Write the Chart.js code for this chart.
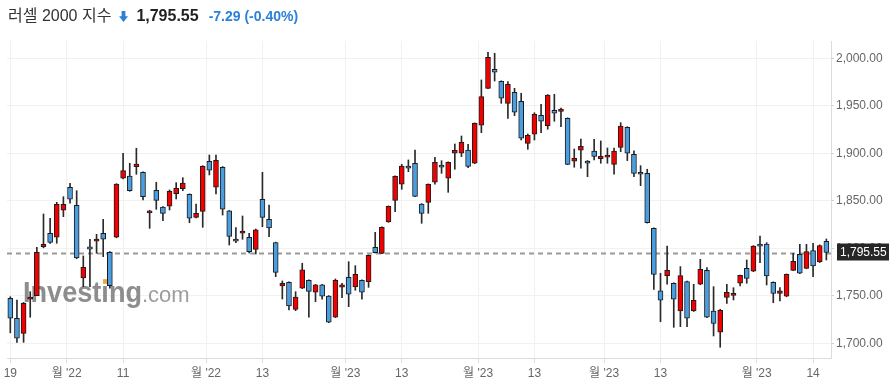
<!DOCTYPE html>
<html><head><meta charset="utf-8">
<script src="https://cdn.jsdelivr.net/npm/chart.js@4.4.1/dist/chart.umd.min.js"></script>
<style>
html,body{margin:0;padding:0;background:#fff;width:891px;height:390px;overflow:hidden;}
#wrap{position:relative;width:891px;height:390px;}
#title{position:absolute;left:8px;top:6px;font-family:"Liberation Sans",Arial,"Noto Sans CJK KR",sans-serif;font-size:16px;line-height:20px;color:#333;white-space:nowrap;}
#title .arrow{display:inline-block;vertical-align:-1px;margin-left:8px;}
#title .price{font-weight:bold;color:#222;margin-left:8px;}
#title .chg{font-weight:bold;color:#2b80d8;font-size:14px;margin-left:10px;}
canvas{position:absolute;left:0;top:0;}
</style></head>
<body><div id="wrap">
<canvas id="c" width="891" height="390"></canvas>
<div id="title"></div>
</div>
<script>
// ---- data ----
const titleName = "러셀 2000 지수";
const lastPrice = 1795.55;
const change = "-7.29";
const changePct = "(-0.40%)";

const dates = [
"2022-10-19","2022-10-20","2022-10-21","2022-10-24","2022-10-25","2022-10-26","2022-10-27","2022-10-28","2022-10-31",
"2022-11-01","2022-11-02","2022-11-03","2022-11-04","2022-11-07","2022-11-08","2022-11-09","2022-11-10","2022-11-11","2022-11-14","2022-11-15","2022-11-16","2022-11-17","2022-11-18","2022-11-21","2022-11-22","2022-11-23","2022-11-25","2022-11-28","2022-11-29","2022-11-30",
"2022-12-01","2022-12-02","2022-12-05","2022-12-06","2022-12-07","2022-12-08","2022-12-09","2022-12-12","2022-12-13","2022-12-14","2022-12-15","2022-12-16","2022-12-19","2022-12-20","2022-12-21","2022-12-22","2022-12-23","2022-12-27","2022-12-28","2022-12-29","2022-12-30",
"2023-01-03","2023-01-04","2023-01-05","2023-01-06","2023-01-09","2023-01-10","2023-01-11","2023-01-12","2023-01-13","2023-01-17","2023-01-18","2023-01-19","2023-01-20","2023-01-23","2023-01-24","2023-01-25","2023-01-26","2023-01-27","2023-01-30","2023-01-31",
"2023-02-01","2023-02-02","2023-02-03","2023-02-06","2023-02-07","2023-02-08","2023-02-09","2023-02-10","2023-02-13","2023-02-14","2023-02-15","2023-02-16","2023-02-17","2023-02-21","2023-02-22","2023-02-23","2023-02-24","2023-02-27","2023-02-28",
"2023-03-01","2023-03-02","2023-03-03","2023-03-06","2023-03-07","2023-03-08","2023-03-09","2023-03-10","2023-03-13","2023-03-14","2023-03-15","2023-03-16","2023-03-17","2023-03-20","2023-03-21","2023-03-22","2023-03-23","2023-03-24","2023-03-27","2023-03-28","2023-03-29","2023-03-30","2023-03-31",
"2023-04-03","2023-04-04","2023-04-05","2023-04-06","2023-04-10","2023-04-11","2023-04-12","2023-04-13","2023-04-14","2023-04-17","2023-04-18"
];

const open = [
1747.4,1726.3,1710.5,1746.3,1750.1,1801.7,1815.8,1811.6,1840.0,1864.2,
1845.3,1768.7,1801.4,1807.4,1815.8,1795.8,1811.6,1873.7,1876.1,1885.9,
1880.0,1837.2,1861.0,1843.5,1844.2,1857.5,1862.8,1856.8,1832.6,1838.9,
1891.6,1864.2,1885.3,1839.3,1809.8,1815.8,1811.6,1798.9,1851.6,1830.5,
1805.9,1760.3,1764.2,1735.7,1757.9,1766.3,1753.7,1761.4,1749.7,1727.4,
1759.0,1769.5,1759.3,1766.3,1764.9,1801.0,1794.7,1827.7,1850.5,1867.4,
1886.6,1889.5,1846.6,1848.4,1869.5,1887.7,1873.7,1900.0,1900.0,1903.5,
1889.5,1929.5,1968.4,1988.4,1975.8,1952.6,1964.2,1954.7,1910.5,1920.0,
1940.0,1929.0,1945.3,1944.2,1936.8,1891.6,1903.2,1891.9,1902.4,1894.3,
1895.8,1888.4,1906.3,1927.4,1898.9,1880.0,1878.9,1821.0,1755.1,1771.2,
1763.2,1734.0,1764.9,1734.0,1762.1,1776.8,1734.0,1711.6,1748.4,1750.5,
1763.2,1778.9,1775.8,1804.5,1804.5,1764.2,1752.6,1749.5,1776.8,1793.7,
1778.9,1797.5,1785.9,1807.4
];
const high = [
1749.0,1745.6,1743.0,1754.3,1801.0,1836.1,1831.6,1848.4,1854.3,1868.4,
1860.6,1791.9,1809.5,1814.7,1830.5,1796.5,1868.0,1900.0,1889.5,1905.3,
1880.5,1840.0,1869.5,1844.0,1861.4,1869.1,1874.3,1857.3,1846.6,1887.0,
1898.2,1898.2,1886.0,1839.8,1821.7,1834.0,1815.8,1820.3,1880.0,1845.6,
1806.5,1765.6,1764.8,1754.3,1784.2,1766.8,1762.0,1762.0,1750.2,1767.7,
1763.2,1785.9,1781.7,1766.8,1793.0,1816.8,1822.5,1844.6,1876.2,1888.4,
1893.0,1903.5,1847.0,1867.8,1895.8,1892.2,1891.0,1909.8,1918.2,1909.5,
1932.0,1977.2,2006.3,2005.3,1976.3,1975.4,1968.4,1963.2,1920.3,1942.7,
1951.6,1961.8,1962.1,1947.6,1937.3,1904.5,1915.0,1892.4,1914.7,1913.0,
1905.6,1905.6,1932.2,1928.0,1902.7,1887.0,1883.2,1821.5,1773.7,1802.4,
1763.7,1780.7,1765.5,1762.1,1788.4,1779.6,1759.6,1735.8,1762.1,1758.5,
1771.8,1787.7,1802.8,1812.9,1805.9,1764.7,1758.5,1773.0,1794.7,1804.2,
1804.2,1805.3,1803.6,1809.8
];
const low = [
1711.0,1701.0,1701.0,1727.4,1750.0,1800.5,1805.0,1805.3,1833.3,1847.4,
1789.0,1759.6,1759.6,1794.7,1791.2,1757.9,1811.0,1873.0,1860.0,1877.9,
1850.8,1821.0,1841.0,1829.0,1840.3,1851.9,1860.6,1826.9,1832.0,1822.1,
1877.2,1857.2,1835.0,1803.5,1805.9,1809.5,1795.0,1794.0,1822.7,1812.2,
1770.1,1746.6,1735.1,1734.3,1757.5,1727.4,1743.8,1746.3,1721.6,1727.0,
1748.0,1738.5,1755.8,1746.3,1758.9,1795.0,1794.2,1827.3,1838.5,1862.1,
1880.6,1854.2,1826.3,1836.8,1867.4,1878.9,1858.9,1883.2,1896.5,1884.8,
1889.0,1921.7,1968.0,1976.1,1952.6,1936.8,1939.6,1914.0,1904.2,1914.0,
1921.7,1925.3,1933.7,1928.0,1888.0,1885.3,1884.2,1875.4,1893.0,1889.5,
1889.5,1877.9,1901.7,1892.3,1875.4,1865.9,1826.5,1756.8,1722.7,1762.1,
1716.8,1717.5,1717.5,1733.5,1761.6,1727.0,1707.7,1695.8,1742.0,1745.6,
1760.3,1763.2,1775.4,1784.8,1761.4,1742.7,1744.5,1749.0,1776.4,1773.3,
1778.5,1770.1,1785.0,1787.7
];
const close = [
1726.3,1705.3,1742.1,1748.7,1795.8,1804.2,1806.3,1846.3,1846.3,1851.6,
1789.8,1780.0,1799.0,1809.8,1809.5,1760.6,1867.7,1881.7,1860.6,1888.7,
1854.3,1839.3,1850.5,1836.8,1860.0,1863.2,1868.7,1831.6,1836.8,1886.3,
1882.1,1892.6,1841.1,1812.6,1807.4,1818.2,1796.4,1819.3,1832.6,1821.4,
1774.7,1763.2,1739.3,1748.7,1777.2,1754.7,1761.4,1749.7,1722.1,1766.3,
1761.4,1751.6,1772.6,1753.7,1792.6,1795.4,1822.1,1844.2,1875.8,1886.6,
1884.2,1854.7,1836.8,1867.4,1890.5,1885.3,1890.5,1903.2,1911.6,1886.3,
1931.6,1959.6,2001.0,1985.3,1957.9,1972.6,1943.2,1915.8,1918.9,1941.1,
1933.7,1961.4,1942.1,1946.6,1888.4,1894.7,1907.4,1889.5,1896.8,1896.8,
1898.2,1902.4,1928.7,1900.0,1878.9,1877.9,1826.9,1772.6,1745.3,1776.8,
1746.3,1771.2,1726.3,1745.3,1777.9,1727.4,1721.0,1734.7,1753.7,1752.6,
1771.4,1768.4,1802.4,1802.1,1770.8,1752.6,1755.1,1772.6,1786.3,1773.7,
1796.4,1781.4,1802.84,1795.55
];

// x tick positions (candle index, .5 = month boundary) and their labels
const xTickPos    = [0, 8.5, 17, 29.5, 38, 50.5, 59, 70.5, 79, 89.5, 98, 112.5, 121];
const xTickLabels = ["19","월 '22","11","월 '22","13","월 '23","13","월 '23","13","월 '23","13","월 '23","14"];
const yTickValues = [1700, 1750, 1800, 1850, 1900, 1950, 2000];

// ---- title ----
document.getElementById('title').innerHTML =
  '<span>' + titleName + '</span>' +
  '<svg class="arrow" width="9" height="11" viewBox="0 0 9 11"><path d="M2.6 0h3.8v5.2h2.6L4.5 11 0 5.2h2.6z" fill="#2b80d8"/></svg>' +
  '<span class="price">' + lastPrice.toLocaleString('en-US',{minimumFractionDigits:2}) + '</span>' +
  '<span class="chg">' + change + ' ' + changePct + '</span>';

const RED = '#f20000', BLUE = '#4a9ee0';
const up = close.map((c,i)=> c >= open[i]);
const bodies = open.map((o,i)=>({x:i, y:[o, close[i]]}));
const wicks = low.map((l,i)=>({x:i, y:[l, high[i]]}));
const fmt = v => Number(v).toLocaleString('en-US',{minimumFractionDigits:2, maximumFractionDigits:2});
const FONT = '"Liberation Sans", Arial, "Noto Sans CJK KR", sans-serif';

const overlay = {
  id:'overlay',
  beforeDatasetsDraw(chart){
    const {ctx, chartArea:a, scales:{y}} = chart;
    ctx.save();
    // watermark
    ctx.fillStyle = 'rgba(125,125,125,0.88)';
    ctx.font = 'bold 30px ' + FONT;
    ctx.textBaseline = 'alphabetic';
    const w = ctx.measureText('Investing').width;
    ctx.save();
    ctx.translate(23, 302);
    ctx.scale(119 / w, 1);
    ctx.fillText('Investing', 0, 0);
    ctx.restore();
    ctx.fillStyle = 'rgba(140,140,140,0.85)';
    ctx.font = '22px ' + FONT;
    ctx.fillText('.com', 142, 302);
    ctx.fillStyle = 'rgba(245,170,60,0.9)';
    ctx.fillRect(103, 279, 5, 5);
    // dashed last-price line
    const py = Math.round(y.getPixelForValue(lastPrice)) + 0.5;
    ctx.strokeStyle = '#9a9a9a';
    ctx.lineWidth = 2;
    ctx.setLineDash([5,4]);
    ctx.beginPath();
    ctx.moveTo(a.left, py); ctx.lineTo(a.right, py);
    ctx.stroke();
    ctx.restore();
  },
  afterDraw(chart){
    const {ctx, chartArea:a, scales:{y}} = chart;
    const py = y.getPixelForValue(lastPrice);
    ctx.save();
    ctx.fillStyle = '#262626';
    ctx.fillRect(a.right + 6, py - 9, 52, 17);
    ctx.fillStyle = '#fff';
    ctx.font = '12px ' + FONT;
    ctx.textBaseline = 'middle';
    ctx.fillText(fmt(lastPrice), a.right + 9, py);
    ctx.restore();
  }
};

new Chart(document.getElementById('c'), {
  type:'bar',
  data:{
    labels: dates,
    datasets:[
      {data: bodies, backgroundColor: up.map(u=> u?RED:BLUE), borderColor:'#1c1c1c', borderWidth:1,
       borderSkipped:false, barThickness:5, grouped:false, minBarLength:2},
      {data: wicks, backgroundColor:'#2a2a2a', borderWidth:0, barThickness:1, grouped:false}
    ]
  },
  options:{
    responsive:false, animation:false,
    layout:{padding:{top:41, left:7, right:0, bottom:0}},
    plugins:{legend:{display:false}, tooltip:{enabled:false}},
    scales:{
      x:{
        type:'linear', min:-0.5, max:123.7, offset:false,
        afterBuildTicks: s => { s.ticks = xTickPos.map(v=>({value:v})); },
        afterFit: s => { s.height = 32; },
        ticks:{autoSkip:false, maxRotation:0, minRotation:0, padding:3, color:'#666',
               font:{size:12, family:FONT},
               callback:(v,i)=> xTickLabels[i]},
        grid:{offset:false, color:'#f1f1f1', tickColor:'#dcdcdc', tickLength:5, drawTicks:true},
        border:{color:'#dcdcdc'}
      },
      y:{
        position:'right', min:1684.5, max:2018.2,
        afterBuildTicks: s => { s.ticks = yTickValues.map(v=>({value:v})); },
        afterFit: s => { s.width = 60; },
        ticks:{padding:2, color:'#666', font:{size:12, family:FONT}, callback: v => fmt(v)},
        grid:{color:'#f1f1f1', tickColor:'#cfcfcf', tickLength:3},
        border:{color:'#dcdcdc'}
      }
    }
  },
  plugins:[overlay]
});
</script>
</body></html>
